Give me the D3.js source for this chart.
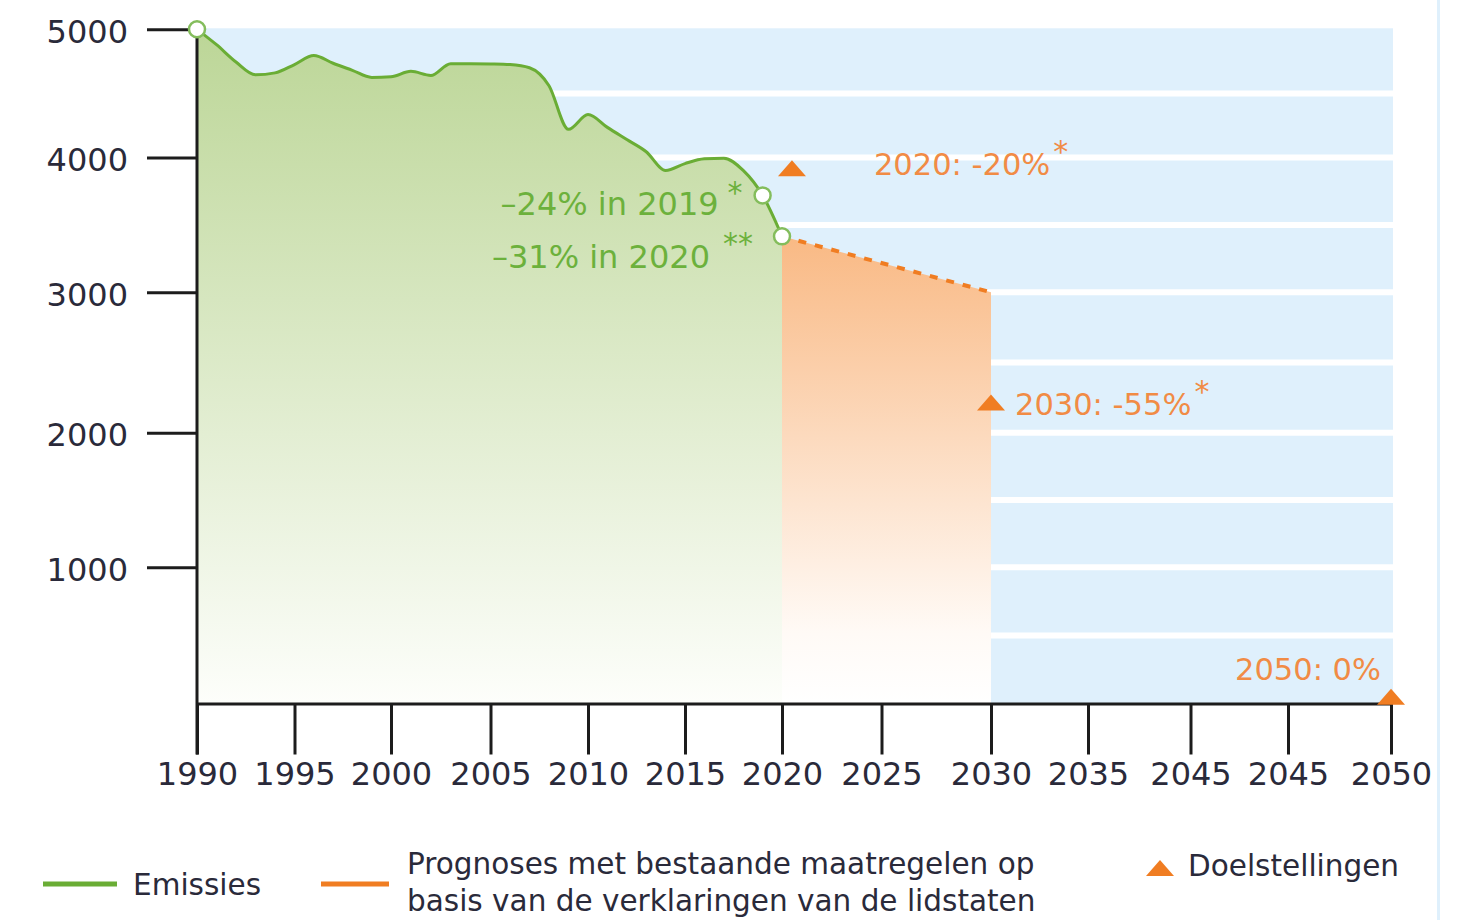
<!DOCTYPE html>
<html><head><meta charset="utf-8">
<script src="https://cdn.jsdelivr.net/npm/d3@7"></script>
<style>html,body{margin:0;padding:0;background:#fff;} svg{display:block;}</style>
</head><body>
<svg id="c" width="1466" height="920"></svg>
<script>
// ---------------- DATA ----------------
const years = [1990,1991,1992,1993,1994,1995,1996,1997,1998,1999,2000,2001,2002,2003,2004,2005,2006,2007,2008,2009,2010,2011,2012,2013,2014,2015,2016,2017,2018,2019,2020];
const emissions = [5000,4880,4745,4645,4660,4725,4795,4735,4680,4625,4630,4672,4640,4732,4732,4730,4725,4700,4560,4220,4335,4235,4140,4045,3904,3955,3990,3995,3904,3719,3415];
const projYears = [2020, 2030];
const projValues = [3415, 3000];
const targetYears = [2020.5, 2030, 2050];
const targetValues = [3920, 2215, 50];
const targetLabels = ["2020: -20%", "2030: -55%", "2050: 0%"];
const targetStars = ["*", "*", ""];
const markedYears = [1990, 2019, 2020];
const noteTexts = ["\u201324% in 2019", "\u201331% in 2020"];
const noteStars = ["*", "**"];
const xTickYears = [1990,1995,2000,2005,2010,2015,2020,2025,2030,2035,2040,2045,2050];
const xTickLabels = ["1990","1995","2000","2005","2010","2015","2020","2025","2030","2035","2045","2045","2050"];
const yTickValues = [1000,2000,3000,4000,5000];
const gridValues = [500,1000,1500,2000,2500,3000,3500,4000,4500];
const legendEmis = "Emissies";
const legendProg = ["Prognoses met bestaande maatregelen op", "basis van de verklaringen van de lidstaten"];
const legendTarget = "Doelstellingen";

// ---------------- LAYOUT ----------------
const FONT = "'DejaVu Sans', sans-serif";
const GREEN = "#6aad35", ORANGE = "#f07d22", OTEXT = "#f18b45", GTEXT = "#6cb13c", AX = "#1c1c1c";
const svg = d3.select("#c");

const x = d3.scaleLinear()
  .domain(xTickYears)
  .range([197,294.5,391,490.5,588,685,782,881.5,991,1088,1190.5,1288,1391]);
const y = d3.scaleLinear()
  .domain([0,1000,2000,3000,4000,5000])
  .range([703.5,567.3,432.7,292.3,157.5,29.3]);

const defs = svg.append("defs");
const gg = defs.append("linearGradient").attr("id","gGreen").attr("gradientUnits","userSpaceOnUse")
  .attr("x1",0).attr("x2",0).attr("y1",y(5000)).attr("y2",y(0));
gg.append("stop").attr("offset",0).attr("stop-color","#bcd697");
gg.append("stop").attr("offset",1).attr("stop-color","#fdfefb");
const og = defs.append("linearGradient").attr("id","gOrange").attr("gradientUnits","userSpaceOnUse")
  .attr("x1",0).attr("x2",0).attr("y1",y(projValues[0])).attr("y2",y(0));
og.append("stop").attr("offset",0).attr("stop-color","#f9b984");
og.append("stop").attr("offset",0.85).attr("stop-color","#fffaf6");
og.append("stop").attr("offset",1).attr("stop-color","#ffffff");

// background panel
svg.append("rect").attr("x", x(1990)).attr("y", y(5000)-1)
  .attr("width", 1393 - x(1990)).attr("height", y(0) - y(5000) + 1).attr("fill","#dff0fc");
svg.selectAll(".grid").data(gridValues).join("line")
  .attr("x1", x(1990)).attr("x2", 1393)
  .attr("y1", d => y(d)).attr("y2", d => y(d))
  .attr("stroke","#fff").attr("stroke-width",6);
// right thin blue rule
svg.append("rect").attr("x",1437).attr("y",0).attr("width",3).attr("height",920).attr("fill","#dff0fc");

// projection area
const proj = projYears.map((d,i)=>({year:d, value:projValues[i]}));
svg.append("path").datum(proj)
  .attr("d", d3.area().x(d=>x(d.year)).y0(y(0)).y1(d=>y(d.value)))
  .attr("fill","url(#gOrange)");

// emissions area + line
const emis = years.map((d,i)=>({year:d, value:emissions[i]}));
const curve = d3.curveMonotoneX;
svg.append("path").datum(emis)
  .attr("d", d3.area().x(d=>x(d.year)).y0(y(0)).y1(d=>y(d.value)).curve(curve))
  .attr("fill","url(#gGreen)");
svg.append("path").datum(emis)
  .attr("d", d3.line().x(d=>x(d.year)).y(d=>y(d.value)).curve(curve))
  .attr("fill","none").attr("stroke",GREEN).attr("stroke-width",3);

// projection dotted line
svg.append("path").datum(proj)
  .attr("d", d3.line().x(d=>x(d.year)).y(d=>y(d.value)))
  .attr("fill","none").attr("stroke",ORANGE).attr("stroke-width",4).attr("stroke-dasharray","8 9");

// axes
const yAxis = svg.append("g").attr("transform",`translate(${x(1990)},0)`)
  .call(d3.axisLeft(y).tickValues(yTickValues).tickSize(50).tickSizeOuter(0).tickPadding(19)
    .tickFormat(d3.format("d")));
const xAxis = svg.append("g").attr("transform",`translate(0,${y(0)})`)
  .call(d3.axisBottom(x).tickValues(xTickYears).tickSize(51).tickSizeOuter(0).tickPadding(8)
    .tickFormat((d,i)=>xTickLabels[i]));
[yAxis, xAxis].forEach(g => {
  g.selectAll("path,line").attr("stroke",AX).attr("stroke-width",3);
  g.selectAll("text").attr("fill","#2a2a3a").style("font-family",FONT).style("font-size","32px");
});
yAxis.select(".domain").attr("d", `M0,${y(0)+51}V${y(5000)}`);
yAxis.selectAll("text").attr("dy","0.41em");

// marked points
svg.selectAll(".pt").data(markedYears).join("circle")
  .attr("cx", d=>x(d)).attr("cy", d=>y(emissions[years.indexOf(d)]))
  .attr("r",8).attr("fill","#fff").attr("stroke","#84bd5c").attr("stroke-width",2.5);

// target triangles
const tri = { draw(ctx, size){ const w=14, h=8; ctx.moveTo(0,-h); ctx.lineTo(w,h); ctx.lineTo(-w,h); ctx.closePath(); } };
svg.selectAll(".tg").data(targetYears).join("path")
  .attr("transform",(d,i)=>`translate(${x(d)},${y(targetValues[i])})`)
  .attr("d", d3.symbol().type(tri)()).attr("fill",ORANGE);

// target labels
const tlPos = [{dx:82, dy:7, anchor:"start"}, {dx:24, dy:12, anchor:"start"}, {dx:-10, dy:-17, anchor:"end"}];
targetYears.forEach((d,i)=>{
  const t = svg.append("text").attr("x", x(d)+tlPos[i].dx).attr("y", y(targetValues[i])+tlPos[i].dy)
    .attr("text-anchor", tlPos[i].anchor).attr("fill",OTEXT)
    .style("font-family",FONT).style("font-size","30.5px").text(targetLabels[i]);
  if (targetStars[i]) {
    const len = t.node().getComputedTextLength();
    svg.append("text").attr("x", x(d)+tlPos[i].dx+len+3).attr("y", y(targetValues[i])+tlPos[i].dy-13)
      .attr("fill",OTEXT).style("font-family",FONT).style("font-size","30px").text(targetStars[i]);
  }
});

// emission notes
const notePos = [{dx:-44, dy:20}, {dx:-72, dy:32}];
const starPos = [{dx:-35, dy:8}, {dx:-59, dy:18}];
[2019, 2020].forEach((yr,i)=>{
  const v = emissions[years.indexOf(yr)];
  svg.append("text").attr("x", x(yr)+notePos[i].dx).attr("y", y(v)+notePos[i].dy)
    .attr("text-anchor","end").attr("fill",GTEXT)
    .style("font-family",FONT).style("font-size","32px").text(noteTexts[i]);
  svg.append("text").attr("x", x(yr)+starPos[i].dx).attr("y", y(v)+starPos[i].dy)
    .attr("fill",GTEXT).style("font-family",FONT).style("font-size","30px").text(noteStars[i]);
});

// legend
const lg = svg.append("g").style("font-family",FONT).style("font-size","29.5px").attr("fill","#2a2a3a");
lg.append("line").attr("x1",43).attr("x2",117).attr("y1",884).attr("y2",884).attr("stroke",GREEN).attr("stroke-width",5);
lg.append("text").attr("x",133).attr("y",895).text(legendEmis);
lg.append("line").attr("x1",321).attr("x2",389).attr("y1",884).attr("y2",884).attr("stroke",ORANGE).attr("stroke-width",5);
legendProg.forEach((s,i)=> lg.append("text").attr("x",407).attr("y",874+i*37).text(s));
lg.append("path").attr("transform","translate(1160,868)").attr("d", d3.symbol().type(tri)()).attr("fill",ORANGE);
lg.append("text").attr("x",1188).attr("y",876).text(legendTarget);
</script>
</body></html>
